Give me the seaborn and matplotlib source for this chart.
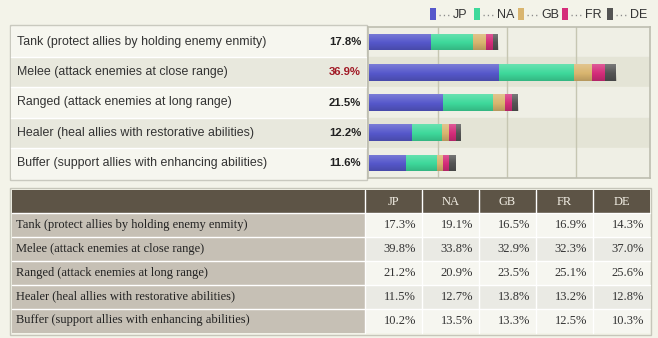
import matplotlib
matplotlib.use("Agg")
import matplotlib.pyplot as plt
import seaborn as sns
import pandas as pd
import numpy as np
from matplotlib.patches import Rectangle

# ---------------- data ----------------
roles = [
    "Tank (protect allies by holding enemy enmity)",
    "Melee (attack enemies at close range)",
    "Ranged (attack enemies at long range)",
    "Healer (heal allies with restorative abilities)",
    "Buffer (support allies with enhancing abilities)",
]
overall = [17.8, 36.9, 21.5, 12.2, 11.6]
regions = ["JP", "NA", "GB", "FR", "DE"]

# stacked-bar segments (weighted contribution of each region)
seg_jp = [8.9, 18.8, 10.7, 6.2, 5.3]
seg_na = [6.2, 10.8, 7.2, 4.4, 4.5]
seg_gb = [1.8, 2.7, 1.8, 0.9, 0.9]
seg_fr = [1.0, 1.8, 1.0, 1.0, 0.9]
seg_de = [0.8, 1.7, 0.9, 0.8, 0.9]

# table values per region
tab_jp = [17.3, 39.8, 21.2, 11.5, 10.2]
tab_na = [19.1, 33.8, 20.9, 12.7, 13.5]
tab_gb = [16.5, 32.9, 23.5, 13.8, 13.3]
tab_fr = [16.9, 32.3, 25.1, 13.2, 12.5]
tab_de = [14.3, 37.0, 25.6, 12.8, 10.3]

colors = ["#5658cb", "#3ed99b", "#d9b56f", "#d52c7a", "#545454"]

# ---------------- figure ----------------
sns.set_theme(style="white")
plt.rcParams["font.family"] = ["Liberation Sans", "DejaVu Sans"]

W, H = 658, 338
fig = plt.figure(figsize=(W / 100, H / 100), dpi=100)
fig.patch.set_facecolor("#f3f3e9")
bg = fig.add_axes([0, 0, 1, 1])
bg.set_xlim(0, W)
bg.set_ylim(H, 0)
bg.axis("off")
bg.set_zorder(0)


def pax(x0, y0, x1, y1):
    return fig.add_axes([x0 / W, 1 - y1 / H, (x1 - x0) / W, (y1 - y0) / H])


# ---- legend ----
leg_x = [430, 474, 518, 562, 607]
for x, reg, c in zip(leg_x, regions, colors):
    bg.add_patch(Rectangle((x, 8), 6, 12, facecolor=c, edgecolor="none"))
    bg.plot([x + 8.5, x + 18.5], [14.8, 14.8], color="#8a8a8a", lw=1.0,
            linestyle=(0, (0.9, 2.2)), solid_capstyle="butt")
    bg.text(x + 23, 14.5, reg, color="#333333", fontsize=9, va="center", ha="left")

# ---- top box: label area ----
row_top, row_h = 27, 30.2
lab_bg = ["#f6f6ef", "#e8e8dd"]
bg.add_patch(Rectangle((10, 25), 357, 155, facecolor="#f6f6ef", edgecolor="#c9c9bf", lw=1))
for i, (role, val) in enumerate(zip(roles, overall)):
    y0 = row_top + i * row_h
    bg.add_patch(Rectangle((11, y0), 355, row_h, facecolor=lab_bg[i % 2], edgecolor="none"))
    if i > 0:
        bg.plot([11, 366], [y0, y0], color="#ffffff", lw=1)
    yc = y0 + row_h / 2
    bg.text(17, yc, role, fontsize=8.9, color="#333333", va="center", ha="left")
    bg.text(361, yc, f"{val:.1f}%", fontsize=8.2, fontweight="bold",
            color="#a11a26" if val == max(overall) else "#222222", va="center", ha="right")

# ---- top box: stacked bars ----
ax = pax(368, 27, 650, 178)
ax.set_zorder(1)
bar_bg = ["#efefe5", "#e4e4d6"]
for i in range(len(roles)):
    ax.axhspan(i - 0.5, i + 0.5, color=bar_bg[i % 2], zorder=0)
segs = np.array([seg_jp, seg_na, seg_gb, seg_fr, seg_de])
cum = np.cumsum(segs, axis=0)
n_before = len(ax.patches)
full_bars = None
for k in range(len(regions) - 1, -1, -1):
    df = pd.DataFrame({"role": roles, "value": cum[k]})
    sns.barplot(data=df, x="value", y="role", orient="h", color=colors[k],
                saturation=1, width=0.55, ax=ax, zorder=3, linewidth=0)
    if full_bars is None:
        full_bars = list(ax.patches)[n_before:]
for g in (10, 20, 30):
    ax.axvline(g, color="#c6c6b2", lw=1, zorder=1)

# subtle glossy shading over each full bar (light top, slightly darker bottom)
n = 24
t = np.linspace(0, 1, n)
shade = np.zeros((n, 1, 4))
shade[:, 0, :3] = np.where(t[:, None] < 0.55, 1.0, 0.0)
shade[:, 0, 3] = np.where(t < 0.55, 0.22 * (1 - t / 0.55), 0.16 * (t - 0.55) / 0.45)
for p in full_bars:
    x0, y0 = p.get_x(), p.get_y()
    im = ax.imshow(shade, extent=(x0, x0 + p.get_width(), y0 + p.get_height(), y0),
                   aspect="auto", zorder=4, interpolation="bilinear", origin="upper")
    im.set_clip_path(p)
ax.set_xlim(-0.19, 40.68)
ax.set_ylim(4.5, -0.5)
ax.set_xticks([])
ax.set_yticks([])
ax.set_xlabel("")
ax.set_ylabel("")
for s in ax.spines.values():
    s.set_color("#bdbdb0")
    s.set_linewidth(1.2)

# ---- bottom table ----
plt_serif = ["Liberation Serif", "DejaVu Serif"]
bg.add_patch(Rectangle((10, 188), 641, 147, facecolor="#f3f3e9", edgecolor="#c6c6ba", lw=1, zorder=1))
col_edges = [12, 365, 422, 479, 536, 593, 650]
hdr_top, hdr_bot = 190, 213
row_edges = [213, 237, 261, 284.5, 308.5, 332.5]
bg.add_patch(Rectangle((12, hdr_top), 638, hdr_bot - hdr_top, facecolor="#5d5446", edgecolor="none", zorder=2))
for j, reg in enumerate(regions):
    xc = (col_edges[j + 1] + col_edges[j + 2]) / 2
    bg.text(xc, (hdr_top + hdr_bot) / 2 + 0.5, reg, family=plt_serif, fontsize=9,
            color="#f2eee4", ha="center", va="center", zorder=4)
table = [tab_jp, tab_na, tab_gb, tab_fr, tab_de]
cell_bg = ["#f6f6f0", "#eaeae4"]
for i, role in enumerate(roles):
    y0, y1 = row_edges[i], row_edges[i + 1]
    yc = (y0 + y1) / 2
    bg.add_patch(Rectangle((12, y0), 353, y1 - y0, facecolor="#c6c0b5", edgecolor="none", zorder=2))
    bg.text(16, yc, role, family=plt_serif, fontsize=9, color="#222222", ha="left", va="center", zorder=4)
    for j in range(len(regions)):
        xa, xb = col_edges[j + 1], col_edges[j + 2]
        bg.add_patch(Rectangle((xa, y0), xb - xa, y1 - y0, facecolor=cell_bg[i % 2], edgecolor="none", zorder=2))
        bg.text(xb - 6, yc, f"{table[j][i]:.1f}%", family=plt_serif, fontsize=9,
                color="#333333", ha="right", va="center", zorder=4)
# separators
for y in row_edges[:-1]:
    bg.plot([12, 650], [y, y], color="#ffffff", lw=1, zorder=3)
for x in col_edges[1:-1]:
    bg.plot([x, x], [hdr_top, row_edges[-1]], color="#ffffff", lw=1, zorder=3)

fig.savefig("out.png", dpi=100, facecolor=fig.get_facecolor())
